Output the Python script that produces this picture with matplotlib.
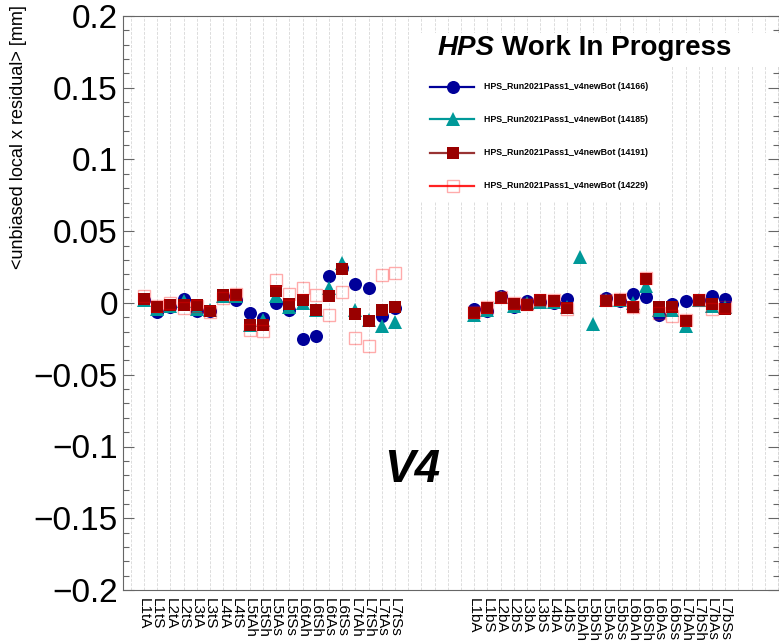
import numpy as np
import matplotlib.pyplot as plt
from matplotlib.ticker import MultipleLocator, FuncFormatter
from matplotlib.patches import Rectangle

plt.rc('font', family='Liberation Sans')

nan = np.nan

top_sensors = ['L1tA', 'L1tS', 'L2tA', 'L2tS', 'L3tA', 'L3tS', 'L4tA', 'L4tS',
               'L5tAh', 'L5tSh', 'L5tAs', 'L5tSs', 'L6tAh', 'L6tSh', 'L6tAs', 'L6tSs',
               'L7tAh', 'L7tSh', 'L7tAs', 'L7tSs']
bot_sensors = ['L1bA', 'L1bS', 'L2bA', 'L2bS', 'L3bA', 'L3bS', 'L4bA', 'L4bS',
               'L5bAh', 'L5bSh', 'L5bAs', 'L5bSs', 'L6bAh', 'L6bSh', 'L6bAs', 'L6bSs',
               'L7bAh', 'L7bSh', 'L7bAs', 'L7bSs']

runs = ['14166', '14185', '14191', '14229']

# mean residuals [mm], top half
top_14166 = [0.002, -0.006, -0.0025, 0.003, -0.0055, -0.0055, 0.005, 0.002, -0.0068, -0.0103,
             -0.0003, -0.0052, -0.0253, -0.0233, 0.0188, 0.0247, 0.013, 0.0102, -0.0089, -0.0035]
top_14185 = [0.002, -0.004, -0.002, 0.0013, -0.004, -0.005, 0.005, 0.005, -0.015, -0.012,
             0.005, -0.003, 0.0, -0.005, 0.0106, 0.0277, -0.0052, -0.012, -0.0159, -0.0129]
top_14191 = [0.0028, -0.0028, -0.0015, -0.0015, -0.0017, -0.0054, 0.0053, 0.0058, -0.0151, -0.0156,
             0.0086, -0.0006, 0.0023, -0.0047, 0.0047, 0.0237, -0.0076, -0.0128, -0.005, -0.003]
top_14229 = [0.0052, -0.002, 0.0, -0.0034, -0.002, -0.0064, 0.0038, 0.006, -0.0186, -0.0196,
             0.0157, 0.0066, 0.0103, 0.0057, -0.0082, 0.008, -0.0245, -0.0303, 0.0197, 0.0211]

# bottom half
bot_14166 = [-0.0045, -0.0059, 0.0047, -0.0031, 0.0013, 0.0008, 0.0003, 0.0029, nan, nan,
             0.0036, 0.0015, 0.006, 0.0044, -0.0082, -0.0008, 0.0014, 0.002, 0.0052, 0.0027]
bot_14185 = [-0.0087, -0.005, 0.004, -0.002, 0.0, 0.001, 0.001, -0.003, 0.032, -0.0145,
             0.002, 0.002, 0.0, 0.012, -0.005, -0.005, -0.0157, 0.002, -0.002, -0.003]
bot_14191 = [-0.0067, -0.0036, 0.0035, -0.0006, -0.0017, 0.0019, 0.0017, -0.0035, nan, nan,
             0.0015, 0.0023, -0.0026, 0.0167, -0.0029, -0.0029, -0.0123, 0.002, -0.0006, -0.004]
bot_14229 = [-0.006, -0.003, 0.004, 0.0, -0.001, 0.002, 0.002, -0.004, nan, nan,
             0.002, 0.0026, -0.003, 0.0176, -0.007, -0.0092, -0.012, 0.002, -0.0045, -0.003]

# histogram bins: one empty bin in front, 5 between halves, 4 at the end
n_lead, n_gap, n_trail = 1, 5, 4
labels = [''] * n_lead + top_sensors + [''] * n_gap + bot_sensors + [''] * n_trail
x = np.arange(len(labels))


def fill(top, bot):
    return np.array([nan] * n_lead + top + [nan] * n_gap + bot + [nan] * n_trail, dtype=float)


series = [fill(top_14166, bot_14166), fill(top_14185, bot_14185),
          fill(top_14191, bot_14191), fill(top_14229, bot_14229)]

styles = [
    dict(marker='o', ms=9.4, mfc='#000099', mec='#000099', mew=0),
    dict(marker='^', ms=9.6, mfc='#009999', mec='#009999', mew=0),
    dict(marker='s', ms=8.8, mfc='#990000', mec='#990000', mew=0),
    dict(marker='s', ms=8.6, mfc='none', mec=(1, 0, 0, 0.33), mew=1.0),
]
line_colors = ['#000099', '#009999', '#993333', '#ff2222']

W, H = 779, 644
fig = plt.figure(figsize=(W / 100, H / 100), dpi=100)
ax = fig.add_axes([123 / W, 54 / H, 656 / W, 574 / H])

for vals, st in zip(series, styles):
    ax.plot(x, vals, linestyle='none', zorder=3, **st)

ax.set_xlim(-0.59, 49.07)
ax.set_ylim(-0.2, 0.2)

ax.set_xticks(x)
ax.set_xticklabels(labels, rotation=-90, fontsize=11)
ax.tick_params(axis='x', length=0, pad=5.8)
ax.grid(axis='x', color='#dcdcdc', linestyle=(0, (3, 1.5)), linewidth=0.7)
ax.set_axisbelow(True)

ax.yaxis.set_major_locator(MultipleLocator(0.05))
ax.yaxis.set_minor_locator(MultipleLocator(0.01))
ax.yaxis.set_major_formatter(FuncFormatter(lambda v, p: f'{round(v, 3) + 0.0:g}'.replace('-', '\u2212')))
ax.tick_params(axis='y', which='both', direction='in', left=True, right=True,
               color='#666666', width=0.8, labelsize=24, pad=3.6)
ax.tick_params(axis='y', which='major', length=8)
ax.tick_params(axis='y', which='minor', length=4.3)
for sp in ax.spines.values():
    sp.set_color('#666666')
    sp.set_linewidth(0.8)

ax.text(-0.160, 1.019, '<unbiased local x residual> [mm]', transform=ax.transAxes,
        rotation=90, ha='center', va='top', fontsize=13)

# title and legend panes
ax.add_patch(Rectangle((0.438, 0.911), 0.562, 0.059, transform=ax.transAxes,
                       facecolor='white', edgecolor='none', zorder=4))
ax.add_patch(Rectangle((0.438, 0.676), 0.397, 0.235, transform=ax.transAxes,
                       facecolor='white', edgecolor='none', zorder=4))

t1 = ax.text(0.4794, 0.932, 'HPS', transform=ax.transAxes, fontsize=20,
             weight='bold', style='italic', va='baseline', zorder=6)
ax.annotate('Work In Progress', xy=(1, 0), xycoords=t1, xytext=(5.5, 0),
            textcoords='offset points', fontsize=20, weight='bold', va='bottom', zorder=6)

leg_y = [0.8768, 0.820, 0.762, 0.7043]
for k in range(4):
    ax.plot([0.4687, 0.5344], [leg_y[k]] * 2, transform=ax.transAxes, color=line_colors[k],
            lw=1.6, zorder=6, clip_on=False)
    ax.plot([0.5023], [leg_y[k]], transform=ax.transAxes, linestyle='none', zorder=7,
            clip_on=False, **styles[k])
    ax.text(0.5496, leg_y[k], f'HPS_Run2021Pass1_v4newBot ({runs[k]})', transform=ax.transAxes,
            fontsize=6.3, weight='bold', va='center', zorder=7)

ax.text(0.4405, 0.209, 'V4', transform=ax.transAxes, fontsize=33, weight='bold',
        style='italic', ha='center', va='center')

fig.savefig('out.png', dpi=100)
